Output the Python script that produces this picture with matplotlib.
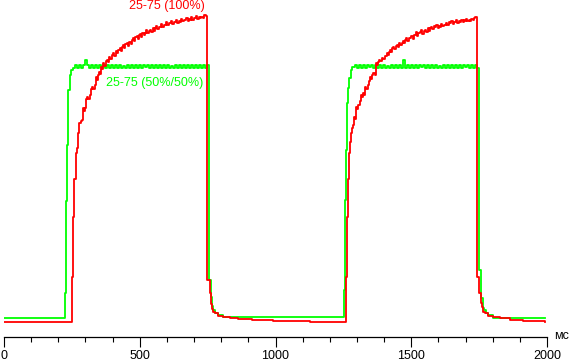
import numpy as np
import matplotlib
matplotlib.use("Agg")
import matplotlib.pyplot as plt
from matplotlib.ticker import MultipleLocator

plt.rcParams['font.family'] = ['Liberation Sans', 'DejaVu Sans']

# ---------------- data (time in ms, level in arbitrary brightness units) ----------------
x_unit = "мс"
label_red = "25-75 (100%)"
label_green = "25-75 (50%/50%)"
x_ticks = [0, 500, 1000, 1500, 2000]

# green: 50%/50% overdrive
green_rise1_t = [0, 225.8, 229.5, 233.1, 236.8, 243, 246.8, 253]
green_rise1_v = [19.5, 44, 136, 192, 247, 262, 267, 269.3]
green_plateau1_span = (261.5, 756)
green_plateau1_v = [272, 269, 272, 269, 272, 277, 272, 269, 272, 269,
                    272, 269, 272, 270, 272, 269, 272, 269, 272, 269,
                    272, 269, 272, 269, 271, 269, 272, 269, 272, 269,
                    272, 269, 272, 269, 272, 270, 272, 269, 272, 269,
                    272, 269, 272, 269, 272, 269, 272, 269, 271, 269,
                    272, 269, 272, 269, 272, 269, 272, 269, 272, 269,
                    272, 269, 272, 269, 272, 269, 272]
green_fall1_rise2_t = [756, 762, 766, 771, 777, 789, 808,
                       1252, 1256, 1259.6, 1264.4, 1268, 1271.8, 1277, 1282.8]
green_fall1_rise2_v = [57, 40, 31, 27, 24.3, 22, 19.7,
                       47, 137, 187, 234, 249, 259, 267, 269.7]
green_plateau2_span = (1292.7, 1749.5)
green_plateau2_v = [272, 269, 272, 269, 272, 269, 272, 270, 272, 269,
                    272, 269, 272, 269, 272, 269, 271, 269, 272, 269,
                    272, 269, 272, 269, 277, 269, 272, 269, 272, 269,
                    272, 269, 272, 270, 272, 269, 272, 269, 272, 269,
                    272, 269, 271, 269, 272, 269, 272, 269, 272, 269,
                    272, 269, 272, 269, 272, 270, 272, 269, 272, 269,
                    272, 269]
green_fall2_t = [1749.5, 1757, 1763, 1768, 1775, 1784, 1800, 1992.5]
green_fall2_v = [67, 39, 29, 27, 24.3, 22, 19.5, 19.5]

# red: 100% overdrive
red_cycle1_t = [0, 251.5, 255, 259, 264, 268, 271, 276, 282, 286, 290, 294, 298, 301, 305, 310,
                317, 320, 323, 328, 335, 339, 343, 347, 351, 354, 356, 361, 366, 370, 374,
                378, 382, 388, 392, 396, 402, 406, 411, 416, 421, 426, 430, 433, 438, 442,
                447, 452, 456, 461, 466, 470, 475, 479, 484, 489, 493, 497, 501, 505, 510,
                514, 519, 524, 528, 533, 538, 542, 547, 551, 556, 561, 565, 570, 574, 579,
                583, 588, 593, 597, 602, 606, 611, 616, 620, 625, 630, 634, 639, 643, 648,
                653, 657, 662, 667, 671, 676, 680, 685, 690, 694, 699, 703, 708, 712, 717,
                722, 727, 732, 737, 743]
red_cycle1_v = [15, 60, 120, 158, 184, 189, 204, 214, 216, 217, 229, 226, 229, 238, 240, 238,
                242, 248, 250, 248, 252, 260, 257, 262, 265, 263, 270, 268, 274, 271, 276,
                277, 275, 280, 278, 282, 284, 281, 286, 284, 287, 289, 286, 290, 292, 289,
                293, 294, 291, 295, 293, 297, 299, 296, 300, 301, 298, 302, 303, 300, 304,
                302, 304, 307, 304, 306, 307, 305, 309, 306, 309, 311, 308, 310, 310, 313,
                310, 312, 312, 315, 312, 314, 314, 316, 313, 315, 315, 317, 314, 316, 315,
                318, 316, 317, 317, 319, 316, 318, 317, 320, 317, 319, 319, 321, 318, 320,
                319, 320, 319, 322, 321]
red_fall1_t = [748.8, 758.6, 762, 766, 771, 777, 789, 808, 832, 862, 912, 991, 1053, 1127]
red_fall1_v = [57, 44, 33, 28, 25, 24, 21, 20, 19, 18, 17, 16, 15.7, 15.3]
red_cycle2_t = [1258.4, 1262, 1266, 1270.6, 1274, 1278, 1283, 1286, 1290, 1293, 1296, 1301,
                1305, 1310, 1315, 1319, 1323, 1326, 1330, 1335, 1340, 1344, 1348, 1353, 1356,
                1360, 1365, 1369, 1373, 1377, 1381, 1386, 1391, 1397, 1403, 1409, 1414, 1418,
                1422, 1426, 1430, 1434, 1438, 1442, 1446, 1451, 1455, 1460, 1465, 1470, 1474,
                1477, 1482, 1486, 1491, 1495, 1500, 1505, 1509, 1514, 1518, 1522, 1526, 1532,
                1536, 1541, 1546, 1551, 1555, 1560, 1564, 1569, 1574, 1578, 1583, 1587, 1592,
                1597, 1601, 1606, 1610, 1615, 1620, 1624, 1629, 1633, 1638, 1643, 1647, 1652,
                1656, 1661, 1666, 1670, 1675, 1679, 1684, 1689, 1693, 1698, 1703, 1707, 1712,
                1716, 1721, 1726, 1732, 1736, 1741]
red_cycle2_v = [60, 120, 158, 184, 195, 204, 209, 212, 220, 218, 230, 228,
                232, 236, 242, 240, 244, 242, 250, 248, 252, 256, 260, 258, 262,
                264, 262, 274, 272, 275, 277, 276, 279, 278, 281, 284, 282, 285,
                287, 285, 289, 290, 288, 291, 292, 290, 294, 292, 294, 296, 294,
                297, 299, 296, 299, 299, 301, 298, 302, 302, 305, 301, 304, 305,
                307, 303, 306, 307, 305, 309, 306, 309, 310, 308, 311, 310, 312,
                309, 311, 310, 313, 311, 312, 312, 314, 312, 315, 314, 316, 313,
                315, 315, 317, 314, 316, 315, 317, 315, 317, 316, 318, 316, 317,
                316, 318, 317, 319, 320, 319]
red_fall2_t = [1743.2, 1750.5, 1755.7, 1759.3, 1765.3, 1771.5, 1783.7, 1802, 1826.8,
               1863.6, 1912.6, 1962, 1992.5]
red_fall2_v = [60, 44, 34, 30, 25, 24, 21, 20, 19, 17, 16.3, 16, 15.3]


def plateau_times(span, n):
    start, end = span
    return list(np.linspace(start, end, n, endpoint=False))


green_t = (green_rise1_t + plateau_times(green_plateau1_span, len(green_plateau1_v))
           + green_fall1_rise2_t + plateau_times(green_plateau2_span, len(green_plateau2_v))
           + green_fall2_t)
green_v = (green_rise1_v + green_plateau1_v + green_fall1_rise2_v + green_plateau2_v
           + green_fall2_v)
red_t = red_cycle1_t + red_fall1_t + red_cycle2_t + red_fall2_t
red_v = red_cycle1_v + red_fall1_v + red_cycle2_v + red_fall2_v

# ---------------- figure ----------------
W, H = 569, 362
fig = plt.figure(figsize=(W / 100, H / 100), dpi=100)
ax = fig.add_axes([4 / W, 25 / H, 543 / W, 337 / H])

ax.plot(green_t, green_v, drawstyle='steps-post', color='#00ff00', lw=1.3)
ax.plot(red_t, red_v, drawstyle='steps-post', color='#ff0000', lw=1.3)

ax.set_xlim(0, 2000)
ax.set_ylim(0, 337)
for s in ('left', 'right', 'top'):
    ax.spines[s].set_visible(False)
ax.spines['bottom'].set_linewidth(0.9)
ax.set_yticks([])
ax.set_xticks(x_ticks)
ax.set_xticklabels([str(v) for v in x_ticks])
ax.xaxis.set_minor_locator(MultipleLocator(100))
ax.tick_params(axis='x', which='major', length=7.2, width=0.8, pad=2.5,
               labelsize=9, colors='black')
ax.tick_params(axis='x', which='minor', length=3.6, width=0.8)

ax.text(600, 327.5, label_red, color='#ff0000', fontsize=9, ha='center', va='baseline')
ax.text(554, 251, label_green, color='#00ff00', fontsize=9, ha='center', va='baseline')

fig.text(554 / W, 1 - 336 / H, x_unit, fontsize=9, ha='left', va='center')

fig.savefig('out.png', dpi=100)
